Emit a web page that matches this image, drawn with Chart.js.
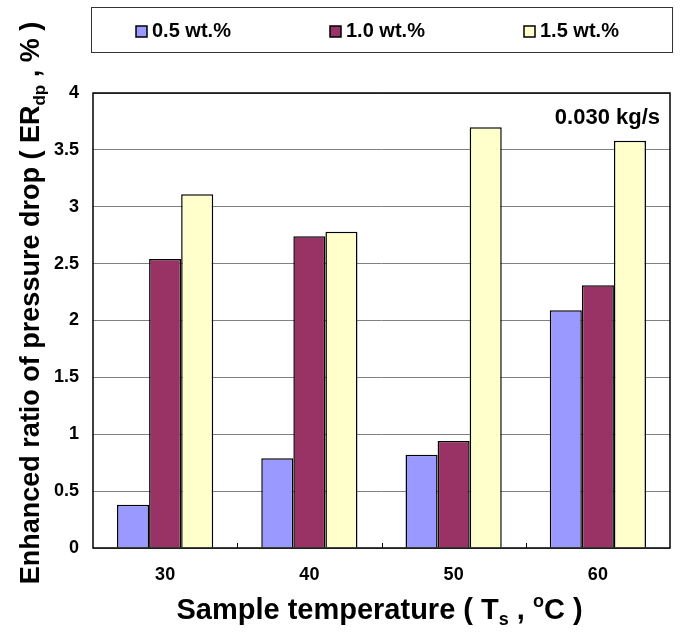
<!DOCTYPE html>
<html>
<head>
<meta charset="utf-8">
<script src="https://cdn.jsdelivr.net/npm/chart.js@4"></script>
<style>
  body { margin: 0; background: #fff; }
  #wrap { width: 685px; height: 634px; }
</style>
</head>
<body>
<div id="wrap"><canvas id="grafico"></canvas></div>
<script>
const temperaturas = ['30', '40', '50', '60'];
const serie05 = [0.38, 0.79, 0.82, 2.09];
const serie10 = [2.54, 2.74, 0.94, 2.31];
const serie15 = [3.11, 2.78, 3.70, 3.58];
const rotulos = ['0.5 wt.%', '1.0 wt.%', '1.5 wt.%'];
const cores = ['#9999ff', '#993366', '#ffffcc'];
const ticksY = [0, 0.5, 1, 1.5, 2, 2.5, 3, 3.5, 4];
const anotacao = '0.030 kg/s';

const FONTE = '"Liberation Sans", Arial, sans-serif';

// desenha texto com subscrito / sobrescrito, centrado em cx, linha de base em y
function textoRico(ctx, partes, cx, y, tam) {
  const fonte = (p) => `bold ${p[1] ? Math.round(tam * 0.62) : tam}px ${FONTE}`;
  let total = 0;
  partes.forEach(p => { ctx.font = fonte(p); total += ctx.measureText(p[0]).width; });
  let x = cx - total / 2;
  ctx.textAlign = 'left';
  ctx.textBaseline = 'alphabetic';
  partes.forEach(p => {
    ctx.font = fonte(p);
    let dy = 0;
    if (p[1] === 'sub') dy = tam * 0.22;
    if (p[1] === 'sup') dy = -tam * 0.42;
    ctx.fillText(p[0], x, y + dy);
    x += ctx.measureText(p[0]).width;
  });
}

const extras = {
  id: 'extras',
  afterDraw(chart) {
    const ctx = chart.ctx;
    const area = chart.chartArea;
    const x = chart.scales.x;
    ctx.save();

    // marcas entre categorias (para dentro)
    ctx.strokeStyle = '#000';
    ctx.lineWidth = 1;
    for (let i = 0; i < temperaturas.length - 1; i++) {
      const px = Math.round((x.getPixelForValue(i) + x.getPixelForValue(i + 1)) / 2) + 0.5;
      ctx.beginPath();
      ctx.moveTo(px, area.bottom);
      ctx.lineTo(px, area.bottom - 5);
      ctx.stroke();
    }

    // moldura da área do gráfico
    ctx.lineWidth = 1.5;
    ctx.strokeRect(area.left, area.top, area.right - area.left, area.bottom - area.top);

    // anotação
    ctx.fillStyle = '#000';
    ctx.font = `bold 22px ${FONTE}`;
    ctx.textAlign = 'right';
    ctx.textBaseline = 'alphabetic';
    ctx.fillText(anotacao, area.right - 10, area.top + 31);

    // legenda com caixa
    ctx.lineWidth = 1;
    ctx.strokeStyle = '#333';
    ctx.strokeRect(91.5, 7.5, 581, 45);
    chart.data.datasets.forEach((ds, i) => {
      const lx = 136 + i * 194;
      ctx.fillStyle = ds.backgroundColor;
      ctx.fillRect(lx, 26, 11, 11);
      ctx.strokeStyle = '#000';
      ctx.lineWidth = 1.5;
      ctx.strokeRect(lx, 26, 11, 11);
      ctx.fillStyle = '#000';
      ctx.font = `bold 20px ${FONTE}`;
      ctx.textAlign = 'left';
      ctx.textBaseline = 'middle';
      ctx.fillText(ds.label, lx + 16, 31.5);
    });

    // títulos dos eixos
    ctx.fillStyle = '#000';
    textoRico(ctx, [['Sample temperature ( T'], ['s', 'sub'], [' , '], ['o', 'sup'], ['C )']],
      (area.left + area.right) / 2 - 2, 619, 29);

    ctx.save();
    ctx.translate(39, 303);
    ctx.rotate(-Math.PI / 2);
    textoRico(ctx, [['Enhanced ratio of pressure drop ( ER'], ['dp', 'sub'], [' , % )']], 0, 0, 27);
    ctx.restore();

    ctx.restore();
  }
};

const ctx = document.getElementById('grafico').getContext('2d');
new Chart(ctx, {
  type: 'bar',
  data: {
    labels: temperaturas,
    datasets: [serie05, serie10, serie15].map((d, i) => ({
      label: rotulos[i],
      data: d,
      backgroundColor: cores[i],
      borderColor: '#000',
      borderWidth: 1.5,
      categoryPercentage: 0.667,
      barPercentage: 1.0
    }))
  },
  options: {
    responsive: true,
    maintainAspectRatio: false,
    animation: false,
    layout: { padding: { top: 93, right: 15, left: 0, bottom: 0 } },
    plugins: { legend: { display: false }, tooltip: { enabled: false } },
    scales: {
      x: {
        grid: { display: false, drawTicks: false },
        border: { display: false },
        ticks: { color: '#000', font: { family: FONTE, size: 18, weight: 'bold' }, padding: 16 },
        afterFit: s => { s.height = 86; }
      },
      y: {
        min: 0,
        max: 4,
        afterBuildTicks: s => { s.ticks = ticksY.map(v => ({ value: v })); },
        grid: { color: '#808080', lineWidth: 1, drawTicks: false },
        border: { display: false },
        ticks: {
          color: '#000',
          font: { family: FONTE, size: 18, weight: 'bold' },
          padding: 14,
          callback: v => String(v)
        },
        afterFit: s => { s.width = 93; }
      }
    }
  },
  plugins: [extras]
});
</script>
</body>
</html>
